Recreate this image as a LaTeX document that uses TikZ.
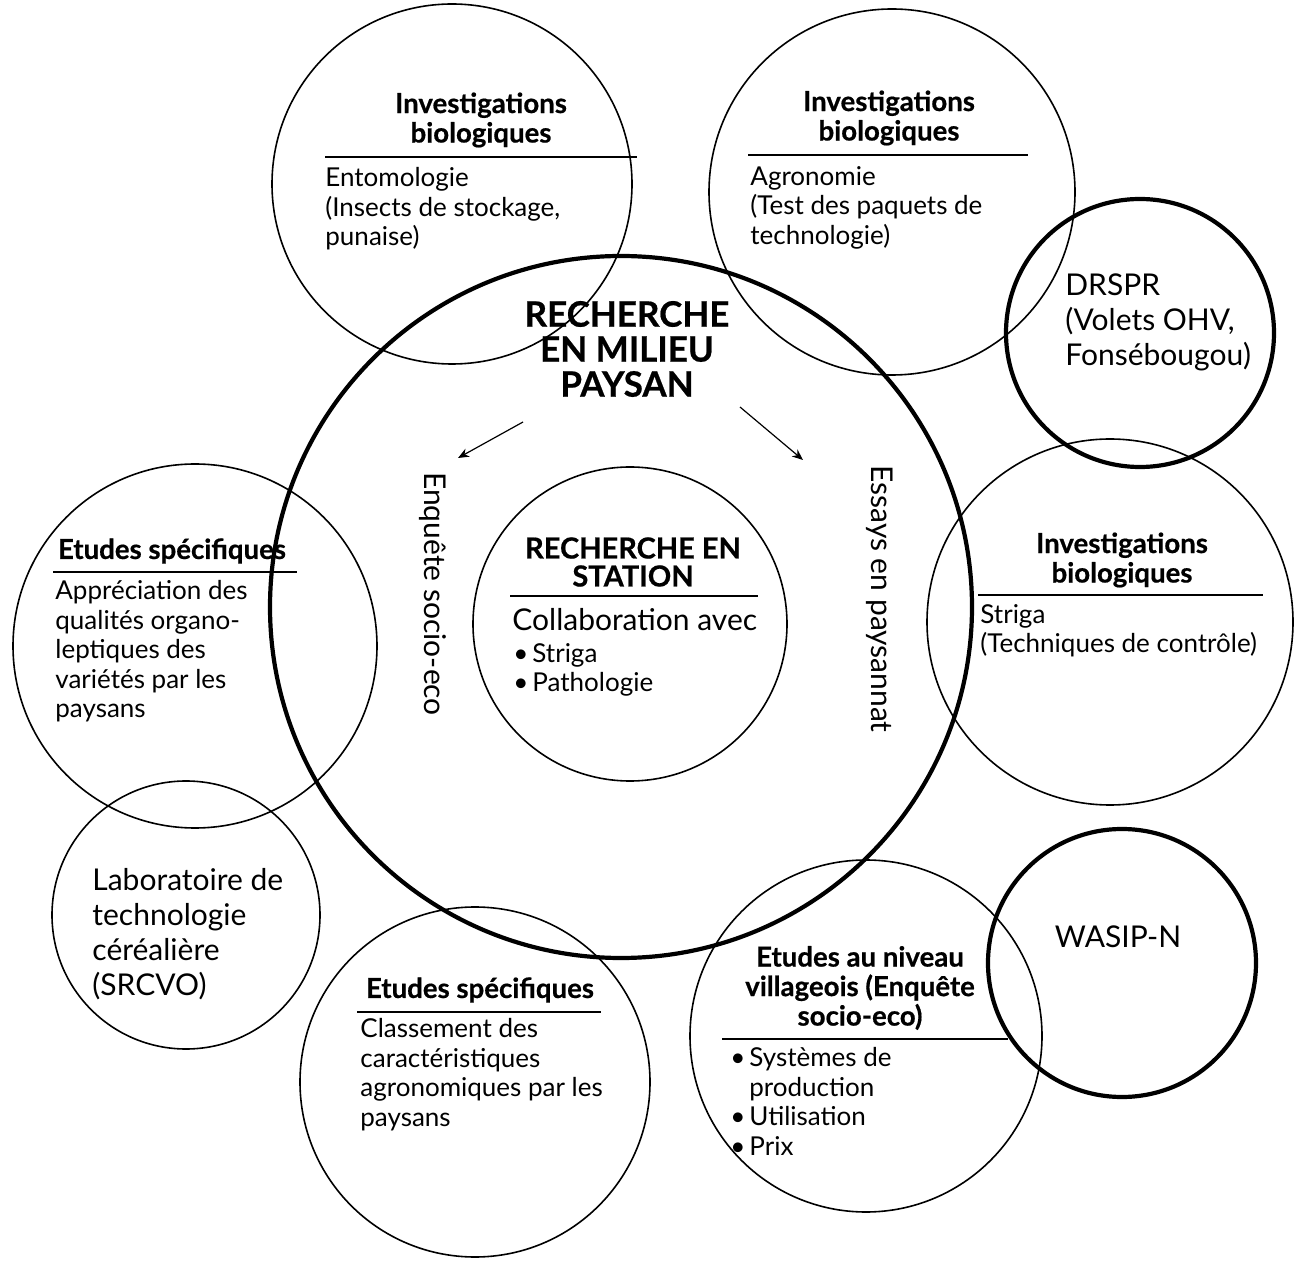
\documentclass[tikz,border=0pt]{standalone}
\usepackage{fontspec}
\setmainfont{Lato}[BoldFeatures={FakeBold=0.6}]
\usetikzlibrary{arrows.meta}
\newcommand{\bul}{\makebox[9.5pt][l]{\textbullet}}
\newcommand{\bulgap}{\hspace*{9.5pt}}

\begin{document}
\begin{tikzpicture}[
    x=0.5pt, y=-0.5pt,
    ring/.style={circle, draw, line width=0.8pt, minimum size=#1pt, inner sep=0pt},
    bigring/.style={ring=#1, line width=2.1pt},
    head/.style={font=\fontsize{13.8}{14.75}\selectfont\bfseries, align=center, inner sep=0pt},
    body/.style={font=\fontsize{13}{14.75}\selectfont, align=left, inner sep=0pt, anchor=north west},
    large/.style={font=\fontsize{15}{17.5}\selectfont, align=left, inner sep=0pt},
    rule/.style={line width=1pt},
    arr/.style={-{Stealth[length=5.5pt,width=4.5pt]}, line width=0.6pt}
  ]
    \useasboundingbox (0,0) rectangle (1303,1262);

    % === Circles ===
    \node[bigring=351] (milieu) at (621,607) {};
    \node[ring=157] (station) at (630,624) {};
    \node[ring=180] (ento) at (452,184) {};
    \node[ring=183] (agro) at (892,192) {};
    \node[bigring=134] (drspr) at (1140,333) {};
    \node[ring=183] (striga) at (1110,622) {};
    \node[ring=182] (organo) at (195,646) {};
    \node[ring=134] (labo) at (186,915) {};
    \node[ring=175] (classe) at (475,1082) {};
    \node[ring=176] (village) at (866,1036) {};
    \node[bigring=134] (wasip) at (1122,963) {};

    % === Centre ===
    \node[head, font=\fontsize{17.5}{17.5}\selectfont\bfseries] (milieutxt) at (627,349)
      {RECHERCHE\\EN MILIEU\\PAYSAN};
    \coordinate (enqfrom) at (523,422);
    \coordinate (enqto) at (458,458);
    \coordinate (essfrom) at (740,407);
    \coordinate (essto) at (803,460);
    \draw[arr] (enqfrom) -- (enqto);
    \draw[arr] (essfrom) -- (essto);
    \node[large, rotate=-90] (enq) at (433,594) {Enquête socio-eco};
    \node[large, rotate=-90] (ess) at (880,599) {Essays en paysannat};

    \node[head, font=\fontsize{14.5}{14}\selectfont\bfseries] (stationhd) at (633,562)
      {RECHERCHE EN\\STATION};
    \draw[rule] (510,596) -- (758,596);
    \node[large, anchor=north west] (collab) at (512,608) {Collaboration avec};
    \node[body] (stationtxt) at (513,643) {\bul Striga\\\bul Pathologie};

    % === Top ===
    \node[head] (entohd) at (481,120) {Investigations\\biologiques};
    \draw[rule] (325,157) -- (637,157);
    \node[body] (entotxt) at (325,167)
      {Entomologie\\(Insects de stockage,\\punaise)};

    \node[head] (agrohd) at (889,118) {Investigations\\biologiques};
    \draw[rule] (748,155) -- (1028,155);
    \node[body] (agrotxt) at (750,166)
      {Agronomie\\(Test des paquets de\\technologie)};

    \node[large, anchor=north west] (drsprtxt) at (1065,273)
      {DRSPR\\(Volets OHV,\\Fonsébougou)};

    % === Sides ===
    \node[head] (organohd) at (172,551) {Etudes spécifiques};
    \draw[rule] (53,572) -- (297,572);
    \node[body] (organotxt) at (55,580)
      {Appréciation des\\qualités organo-\\leptiques des\\variétés par les\\paysans};

    \node[head] (strigahd) at (1122,560) {Investigations\\biologiques};
    \draw[rule] (978,595) -- (1263,595);
    \node[body] (strigatxt) at (980,604) {Striga\\(Techniques de contrôle)};

    % === Bottom ===
    \node[large, anchor=north west] (labotxt) at (92,868)
      {Laboratoire de\\technologie\\céréalière\\(SRCVO)};

    \node[head] (classehd) at (480,990) {Etudes spécifiques};
    \draw[rule] (357,1012) -- (601,1012);
    \node[body] (classetxt) at (360,1018)
      {Classement des\\caractéristiques\\agronomiques par les\\paysans};

    \node[head] (villagehd) at (860,988)
      {Etudes au niveau\\villageois (Enquête\\socio-eco)};
    \draw[rule] (722,1039) -- (1008,1039);
    \node[body] (villagetxt) at (730,1047)
      {\bul Systèmes de\\\bulgap production\\\bul Utilisation\\\bul Prix};

    \node[large] (wasiptxt) at (1118,937) {WASIP-N};
\end{tikzpicture}
\end{document}
